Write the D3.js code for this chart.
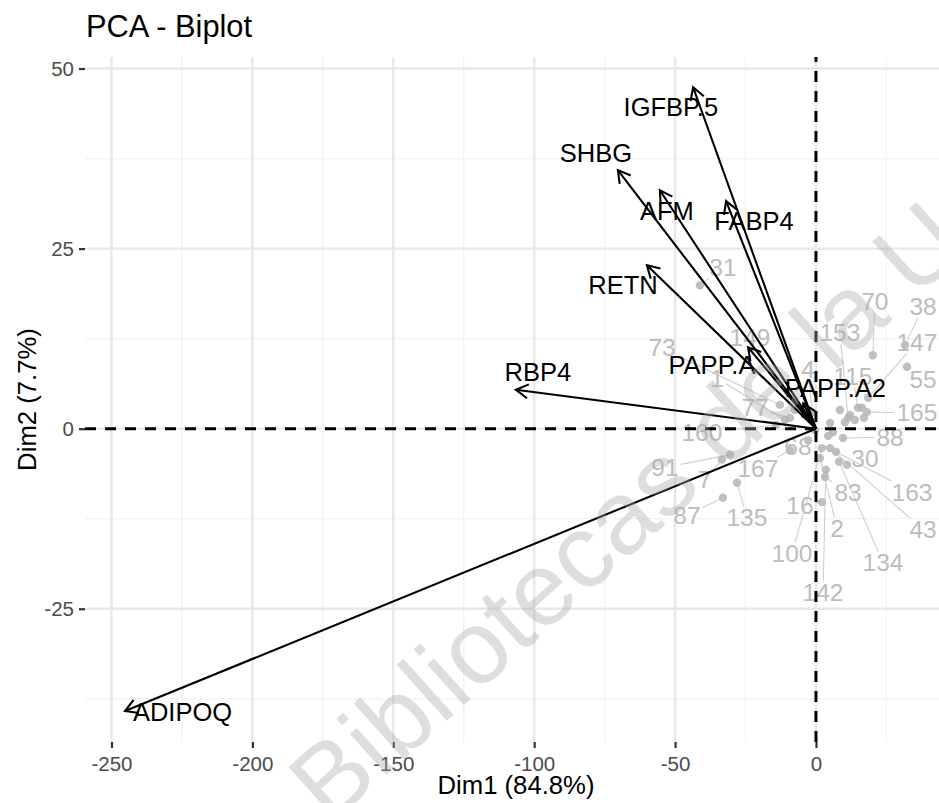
<!DOCTYPE html>
<html>
<head>
<meta charset="utf-8">
<script src="https://cdn.jsdelivr.net/npm/d3@7"></script>
<style>
  html, body { margin: 0; padding: 0; background: #fff; }
  svg { display: block; font-family: "Liberation Sans", Arial, Helvetica, sans-serif; }
</style>
</head>
<body>
<svg id="chart" width="939" height="803"></svg>
<script>
// ---- Variables (loadings scaled onto the individuals' space) ----
const varNames = ["IGFBP.5", "SHBG", "AFM", "FABP4", "RETN", "PAPP.A", "RBP4", "PAPP.A2", "ADIPOQ"];
const varDim1 = [-43.6, -70.3, -55.4, -31.9, -60.0, -24.1, -106.5, -4.5, -245.2];
const varDim2 = [47.4, 35.9, 33.1, 31.6, 22.7, 11.3, 5.4, 3.5, -39.2];
// where each variable's (repelled) label sits, in Dim1/Dim2 units
const varLabelDim1 = [-51.5, -78.1, -52.9, -22.0, -68.5, -36.9, -98.7, 6.9, -224.8];
const varLabelDim2 = [44.6, 38.3, 30.2, 28.8, 19.9, 8.8, 7.8, 5.7, -39.4];

// ---- Individuals (scores) ----
const indIds = ["31", "38", "70", "55", "147", "165", "153", "115", "88", "30",
  "83", "16", "163", "43", "134", "2", "100", "142", "87", "135",
  "7", "91", "167", "160", "77", "73", "149", "1", "68", "4",
  "", "", "", "", "", "", "", "", "", ""];
const indDim1 = [-41.2, 31.6, 20.2, 32.3, 18.5, 18.1, 11.4, 14.9, 9.6, 11.0,
  3.2, 2.1, 7.1, 5.0, 8.2, 1.4, 2.1, 3.5, -33.0, -28.0,
  -33.4, -30.5, -9.2, -14.2, -9.2, -12.8, -7.5, -11.0, -2.8, -1.4,
  8.5, 12.1, 16.3, 10.3, 5.0, 6.0, -0.4, 4.3, 13.8, 17.0];
const indDim2 = [19.9, 11.6, 10.2, 8.6, 4.3, 2.3, 1.5, 2.9, -1.3, -5.0,
  -6.7, -10.2, -3.2, -2.7, -4.6, -4.1, -2.7, -5.7, -9.6, -7.5,
  -4.3, -3.6, -3.0, 0.5, 1.5, 3.3, 2.6, 1.2, -1.6, 2.3,
  2.6, 1.9, 2.9, 0.9, 0.8, -0.5, -0.2, -1.0, 1.2, 1.5];
const indLabelDim1 = [-33.0, 38.0, 20.9, 38.0, 35.8, 35.8, 8.5, 13.1, 26.3, 17.4,
  11.4, -5.7, 34.1, 38.0, 23.8, 7.5, -8.5, 2.5, -45.8, -24.5,
  -39.4, -53.6, -20.6, -40.5, -21.6, -54.6, -23.4, -35.1, -6.4, -2.8];
const indLabelDim2 = [22.4, 16.9, 17.6, 6.8, 12.0, 2.2, 13.3, 7.2, -1.2, -4.1,
  -8.9, -10.6, -8.8, -14.0, -18.6, -13.8, -17.3, -22.7, -12.0, -12.4,
  -7.1, -5.4, -5.5, -0.6, 2.9, 11.2, 12.7, 7.0, -2.5, 8.2];

// ---- Axes ----
const xTicks = [-250, -200, -150, -100, -50, 0];
const yTicks = [-25, 0, 25, 50];
const xMinor = [-225, -175, -125, -75, -25, 25];
const yMinor = [-37.5, -12.5, 12.5, 37.5];
const titleText = "PCA - Biplot";
const xTitle = "Dim1 (84.8%)";
const yTitle = "Dim2 (7.7%)";
const watermark = "Bibliotecas de la UA";

const svg = d3.select("#chart");
const panel = { left: 85, right: 947, top: 57, bottom: 742 };

const x = d3.scaleLinear().domain([-259.4, 46.5]).range([panel.left, panel.right]);
const y = d3.scaleLinear().domain([-43.5, 51.6]).range([panel.bottom, panel.top]);
const tickFmt = d => String(d);   // plain hyphen-minus, as R prints it

// panel clip
svg.append("defs").append("clipPath").attr("id", "panelClip")
  .append("rect")
  .attr("x", panel.left).attr("y", panel.top)
  .attr("width", panel.right - panel.left).attr("height", panel.bottom - panel.top);

// ---- grid ----
const grid = svg.append("g").attr("clip-path", "url(#panelClip)");
grid.selectAll(".xminor").data(xMinor).join("line")
  .attr("x1", d => x(d)).attr("x2", d => x(d))
  .attr("y1", panel.top).attr("y2", panel.bottom)
  .attr("stroke", "#f2f2f2").attr("stroke-width", 1.3);
grid.selectAll(".yminor").data(yMinor).join("line")
  .attr("y1", d => y(d)).attr("y2", d => y(d))
  .attr("x1", panel.left).attr("x2", panel.right)
  .attr("stroke", "#f2f2f2").attr("stroke-width", 1.3);
grid.selectAll(".xmajor").data(xTicks).join("line")
  .attr("x1", d => x(d)).attr("x2", d => x(d))
  .attr("y1", panel.top).attr("y2", panel.bottom)
  .attr("stroke", "#e8e8e8").attr("stroke-width", 2.4);
grid.selectAll(".ymajor").data(yTicks).join("line")
  .attr("y1", d => y(d)).attr("y2", d => y(d))
  .attr("x1", panel.left).attr("x2", panel.right)
  .attr("stroke", "#e8e8e8").attr("stroke-width", 2.4);

// ---- axes (ticks + labels) ----
const xAxis = d3.axisBottom(x).tickValues(xTicks).tickSize(6).tickPadding(4).tickFormat(tickFmt);
const gx = svg.append("g").attr("transform", `translate(0,${panel.bottom})`).call(xAxis);
gx.select(".domain").remove();
gx.selectAll(".tick line").attr("stroke", "#333").attr("stroke-width", 2.2);
gx.selectAll(".tick text").attr("fill", "#4d4d4d").attr("font-size", 20.5)
  .attr("font-family", "Liberation Sans, Arial, sans-serif").attr("dy", "0.95em");

const yAxis = d3.axisLeft(y).tickValues(yTicks).tickSize(6).tickPadding(5).tickFormat(tickFmt);
const gy = svg.append("g").attr("transform", `translate(${panel.left},0)`).call(yAxis);
gy.select(".domain").remove();
gy.selectAll(".tick line").attr("stroke", "#333").attr("stroke-width", 2.2);
gy.selectAll(".tick text").attr("fill", "#4d4d4d").attr("font-size", 20.5)
  .attr("font-family", "Liberation Sans, Arial, sans-serif");

// ---- individuals ----
const indData = indIds.map((id, i) => ({
  id, px: indDim1[i], py: indDim2[i],
  lx: i < indLabelDim1.length ? indLabelDim1[i] : null,
  ly: i < indLabelDim2.length ? indLabelDim2[i] : null
}));
const inds = svg.append("g").attr("clip-path", "url(#panelClip)");

// repel segments from a point to the edge of its label box
function segmentEnd(d) {
  const cx = x(d.lx), cy = y(d.ly);
  const px = x(d.px), py = y(d.py);
  const hw = d.id.length * 7 + 2, hh = 11;
  const dx = px - cx, dy = py - cy;
  if (Math.abs(dx) <= hw && Math.abs(dy) <= hh) return null;
  const t = Math.min(dx !== 0 ? hw / Math.abs(dx) : Infinity, dy !== 0 ? hh / Math.abs(dy) : Infinity);
  const ex = cx + dx * t, ey = cy + dy * t;
  if (Math.hypot(px - ex, py - ey) < 6) return null;
  return [ex, ey];
}
const labelled = indData.filter(d => d.id !== "");
inds.selectAll("line.seg").data(labelled).join("line")
  .attr("class", "seg")
  .each(function(d) {
    const e = segmentEnd(d);
    const sel = d3.select(this);
    if (!e) { sel.remove(); return; }
    sel.attr("x1", x(d.px)).attr("y1", y(d.py)).attr("x2", e[0]).attr("y2", e[1]);
  })
  .attr("stroke", "#cfcfcf").attr("stroke-width", 1.1);

inds.selectAll("circle").data(indData).join("circle")
  .attr("cx", d => x(d.px)).attr("cy", d => y(d.py)).attr("r", 4.2)
  .attr("fill", "#b5b5b5").attr("fill-opacity", 0.85);

inds.selectAll("text").data(labelled).join("text")
  .attr("x", d => x(d.lx)).attr("y", d => y(d.ly))
  .attr("text-anchor", "middle").attr("dominant-baseline", "central")
  .attr("font-size", 24.5).attr("fill", "#bdbdbd")
  .text(d => d.id);

// ---- reference axes through the origin ----
const ref = svg.append("g").attr("clip-path", "url(#panelClip)");
ref.append("line")
  .attr("x1", panel.left).attr("x2", panel.right).attr("y1", y(0)).attr("y2", y(0))
  .attr("stroke", "#000").attr("stroke-width", 3).attr("stroke-dasharray", "11,9");
ref.append("line")
  .attr("x1", x(0)).attr("x2", x(0)).attr("y1", panel.bottom).attr("y2", panel.top)
  .attr("stroke", "#000").attr("stroke-width", 3).attr("stroke-dasharray", "11,9");

// ---- variable arrows ----
const varData = varNames.map((name, i) => ({
  name, vx: varDim1[i], vy: varDim2[i], lx: varLabelDim1[i], ly: varLabelDim2[i]
}));
const arrows = svg.append("g").attr("clip-path", "url(#panelClip)");
const headLen = 14, headAng = Math.PI / 6;
arrows.selectAll("path.arrow").data(varData).join("path")
  .attr("class", "arrow")
  .attr("d", d => {
    const x0 = x(0), y0 = y(0), x1 = x(d.vx), y1 = y(d.vy);
    const a = Math.atan2(y1 - y0, x1 - x0);
    const hx1 = x1 - headLen * Math.cos(a - headAng), hy1 = y1 - headLen * Math.sin(a - headAng);
    const hx2 = x1 - headLen * Math.cos(a + headAng), hy2 = y1 - headLen * Math.sin(a + headAng);
    return `M${x0},${y0}L${x1},${y1}M${hx1},${hy1}L${x1},${y1}L${hx2},${hy2}`;
  })
  .attr("fill", "none").attr("stroke", "#000").attr("stroke-width", 2.1)
  .attr("stroke-linecap", "butt").attr("stroke-linejoin", "miter");

arrows.selectAll("text").data(varData).join("text")
  .attr("x", d => x(d.lx)).attr("y", d => y(d.ly))
  .attr("text-anchor", "middle").attr("dominant-baseline", "central")
  .attr("font-size", 25.5).attr("fill", "#000")
  .text(d => d.name);

// ---- titles ----
svg.append("text").attr("x", 86).attr("y", 37)
  .attr("font-size", 30.8).attr("fill", "#000").text(titleText);
svg.append("text").attr("x", (panel.left + panel.right) / 2).attr("y", 794)
  .attr("text-anchor", "middle").attr("font-size", 25.7).attr("fill", "#000").text(xTitle);
svg.append("text")
  .attr("transform", `translate(36,${(panel.top + panel.bottom) / 2}) rotate(-90)`)
  .attr("text-anchor", "middle").attr("font-size", 25.7).attr("fill", "#000").text(yTitle);

// ---- watermark ----
svg.append("text")
  .attr("transform", "translate(330,826) rotate(-42)")
  .attr("font-size", 104).attr("fill", "#a8a8a8").attr("fill-opacity", 0.38)
  .text(watermark);
</script>
</body>
</html>
